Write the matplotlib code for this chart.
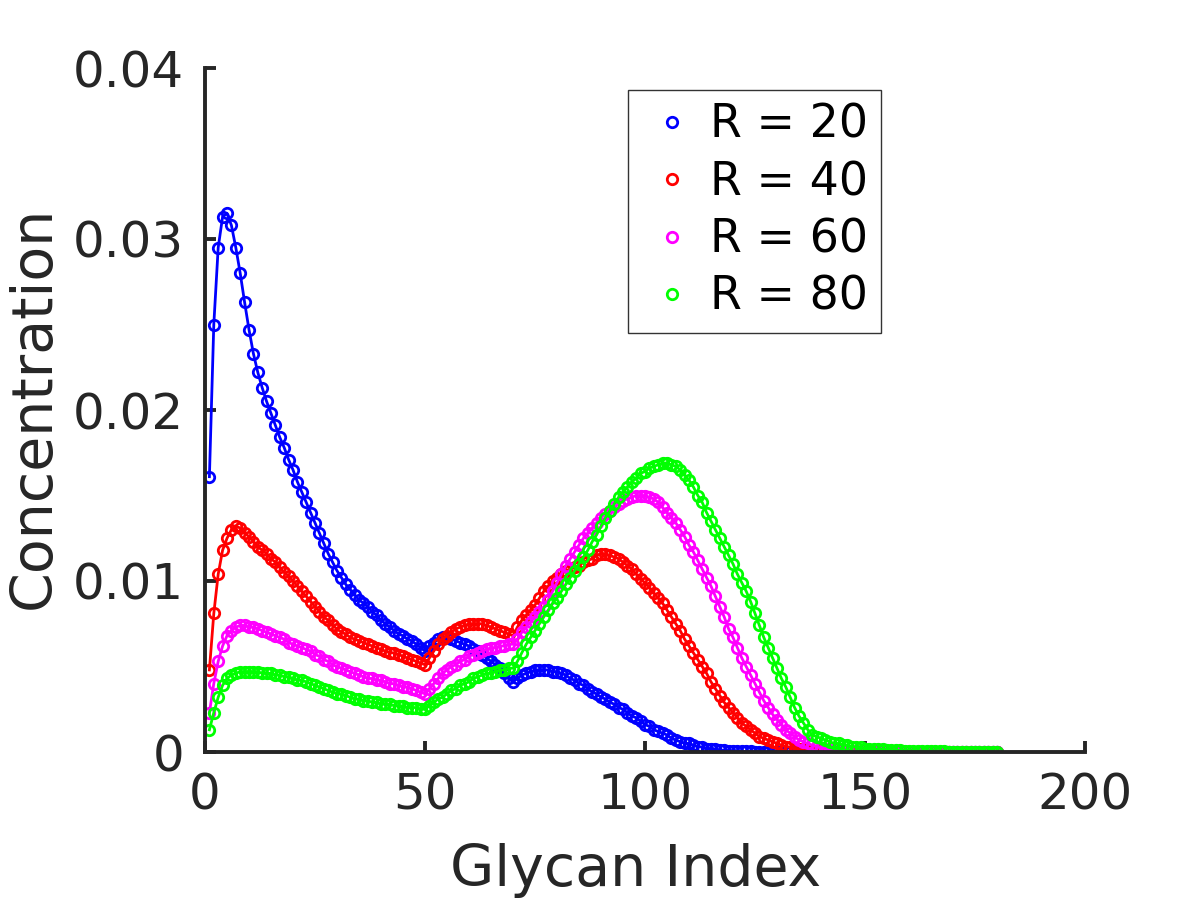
import numpy as np
import matplotlib.pyplot as plt
from matplotlib.lines import Line2D

# --- Data (glycan index 1..180) ---
glycan_index = np.arange(1, 181)

conc_r20 = [
    0.0161, 0.0250, 0.0295, 0.0313, 0.0315, 0.0308, 0.0295, 0.0280, 0.0263, 0.0247,
    0.0233, 0.0222, 0.0213, 0.0205, 0.0198, 0.0191, 0.0184, 0.0178, 0.0171, 0.0165,
    0.0158, 0.0152, 0.0146, 0.0140, 0.0134, 0.0128, 0.0122, 0.0116, 0.0111, 0.0106,
    0.0102, 0.0098, 0.0095, 0.0092, 0.0089, 0.0087, 0.0085, 0.0082, 0.0080, 0.0077,
    0.0075, 0.0073, 0.0071, 0.0069, 0.0068, 0.0066, 0.0065, 0.0063, 0.0061, 0.0059,
    0.0062, 0.0064, 0.0066, 0.0067, 0.0067, 0.0066, 0.0065, 0.0064, 0.0063, 0.0062,
    0.0060, 0.0059, 0.0057, 0.0055, 0.0053, 0.0051, 0.0049, 0.0046, 0.0043, 0.0041,
    0.0043, 0.0045, 0.0046, 0.0047, 0.0048, 0.0048, 0.0048, 0.0048, 0.0047, 0.0047,
    0.0046, 0.0045, 0.0043, 0.0042, 0.0040, 0.0039, 0.0037, 0.0035, 0.0034, 0.0032,
    0.0031, 0.0029, 0.0028, 0.0026, 0.0025, 0.0023, 0.0021, 0.0020, 0.0018, 0.0016,
    0.0015, 0.0013, 0.0012, 0.0011, 0.0010, 0.0008, 0.0007, 0.0006, 0.0005, 0.0005,
    0.0004, 0.0003, 0.0003, 0.0002, 0.0002, 0.00015, 0.00012, 0.0001, 0.00008, 0.00006,
    0.00005, 0.00004, 0.00003, 0.00003, 0.00002, 0.00002, 0.00001, 0.00001, 0.00001, 0.0,
    0.0, 0.0, 0.0, 0.0, 0.0, 0.0, 0.0, 0.0, 0.0, 0.0,
    0.0, 0.0, 0.0, 0.0, 0.0, 0.0, 0.0, 0.0, 0.0, 0.0,
    0.0, 0.0, 0.0, 0.0, 0.0, 0.0, 0.0, 0.0, 0.0, 0.0,
    0.0, 0.0, 0.0, 0.0, 0.0, 0.0, 0.0, 0.0, 0.0, 0.0,
    0.0, 0.0, 0.0, 0.0, 0.0, 0.0, 0.0, 0.0, 0.0, 0.0,
]

conc_r40 = [
    0.0048, 0.0081, 0.0104, 0.0118, 0.0125, 0.0130, 0.0132, 0.0131, 0.0128, 0.0126,
    0.0123, 0.0120, 0.0118, 0.0116, 0.0113, 0.0111, 0.0108, 0.0105, 0.0103, 0.0100,
    0.0097, 0.0094, 0.0091, 0.0088, 0.0085, 0.0082, 0.0079, 0.0077, 0.0074, 0.0072,
    0.0070, 0.0069, 0.0067, 0.0066, 0.0065, 0.0064, 0.0063, 0.0062, 0.0061, 0.0060,
    0.0059, 0.0058, 0.0058, 0.0057, 0.0056, 0.0055, 0.0054, 0.0053, 0.0052, 0.0051,
    0.0055, 0.0059, 0.0063, 0.0066, 0.0068, 0.0070, 0.0072, 0.0073, 0.0074, 0.0075,
    0.0075, 0.0075, 0.0075, 0.0074, 0.0073, 0.0072, 0.0071, 0.0070, 0.0069, 0.0068,
    0.0073, 0.0077, 0.0080, 0.0083, 0.0086, 0.0090, 0.0094, 0.0097, 0.0100, 0.0102,
    0.0104, 0.0106, 0.0107, 0.0108, 0.0109, 0.0111, 0.0112, 0.0113, 0.0115, 0.0116,
    0.0116, 0.0115, 0.0114, 0.0113, 0.0111, 0.0109, 0.0107, 0.0104, 0.0101, 0.0099,
    0.0096, 0.0093, 0.0090, 0.0087, 0.0083, 0.0079, 0.0075, 0.0071, 0.0066, 0.0062,
    0.0058, 0.0054, 0.0050, 0.0046, 0.0041, 0.0037, 0.0033, 0.0029, 0.0026, 0.0023,
    0.0020, 0.0017, 0.0015, 0.0013, 0.0011, 0.0009, 0.0008, 0.0007, 0.0006, 0.0005,
    0.0004, 0.0003, 0.0003, 0.0002, 0.0002, 0.00015, 0.00012, 0.0001, 0.00008, 0.00006,
    0.00005, 0.00004, 0.00003, 0.00003, 0.00002, 0.00002, 0.00001, 0.00001, 0.00001, 0.0,
    0.0, 0.0, 0.0, 0.0, 0.0, 0.0, 0.0, 0.0, 0.0, 0.0,
    0.0, 0.0, 0.0, 0.0, 0.0, 0.0, 0.0, 0.0, 0.0, 0.0,
    0.0, 0.0, 0.0, 0.0, 0.0, 0.0, 0.0, 0.0, 0.0, 0.0,
]

conc_r60 = [
    0.0023, 0.0040, 0.0053, 0.0062, 0.0068, 0.0071, 0.0073, 0.0074, 0.0074, 0.0073,
    0.0073, 0.0072, 0.0071, 0.0070, 0.0069, 0.0068, 0.0067, 0.0066, 0.0064, 0.0063,
    0.0062, 0.0061, 0.0060, 0.0059, 0.0057, 0.0056, 0.0054, 0.0053, 0.0051, 0.0050,
    0.0049, 0.0048, 0.0047, 0.0046, 0.0045, 0.0044, 0.0043, 0.0043, 0.0042, 0.0042,
    0.0041, 0.0040, 0.0040, 0.0039, 0.0038, 0.0038, 0.0037, 0.0036, 0.0035, 0.0034,
    0.0037, 0.0040, 0.0043, 0.0046, 0.0048, 0.0050, 0.0051, 0.0053, 0.0054, 0.0056,
    0.0057, 0.0058, 0.0059, 0.0060, 0.0061, 0.0061, 0.0062, 0.0062, 0.0063, 0.0063,
    0.0066, 0.0070, 0.0073, 0.0076, 0.0079, 0.0082, 0.0085, 0.0089, 0.0094, 0.0099,
    0.0104, 0.0109, 0.0113, 0.0117, 0.0121, 0.0125, 0.0128, 0.0131, 0.0134, 0.0137,
    0.0139, 0.0141, 0.0143, 0.0145, 0.0147, 0.0148, 0.0149, 0.0150, 0.0150, 0.0150,
    0.0149, 0.0148, 0.0146, 0.0143, 0.0140, 0.0137, 0.0134, 0.0130, 0.0126, 0.0121,
    0.0117, 0.0112, 0.0107, 0.0102, 0.0097, 0.0091, 0.0085, 0.0079, 0.0072, 0.0067,
    0.0061, 0.0055, 0.0050, 0.0045, 0.0040, 0.0035, 0.0030, 0.0026, 0.0022, 0.0019,
    0.0016, 0.0013, 0.0011, 0.0009, 0.0007, 0.0006, 0.0005, 0.0004, 0.0003, 0.00025,
    0.0002, 0.00015, 0.00012, 0.0001, 0.00008, 0.00006, 0.00005, 0.00004, 0.00003, 0.00003,
    0.00002, 0.00002, 0.00001, 0.00001, 0.00001, 0.0, 0.0, 0.0, 0.0, 0.0,
    0.0, 0.0, 0.0, 0.0, 0.0, 0.0, 0.0, 0.0, 0.0, 0.0,
    0.0, 0.0, 0.0, 0.0, 0.0, 0.0, 0.0, 0.0, 0.0, 0.0,
]

conc_r80 = [
    0.0013, 0.0023, 0.0032, 0.0039, 0.0043, 0.0045, 0.0046, 0.0047, 0.0047, 0.0047,
    0.0047, 0.0047, 0.0046, 0.0046, 0.0046, 0.0045, 0.0045, 0.0044, 0.0044, 0.0043,
    0.0042, 0.0042, 0.0041, 0.0040, 0.0039, 0.0038, 0.0037, 0.0036, 0.0035, 0.0034,
    0.0034, 0.0033, 0.0032, 0.0031, 0.0031, 0.0030, 0.0030, 0.0029, 0.0029, 0.0028,
    0.0028, 0.0028, 0.0027, 0.0027, 0.0027, 0.0026, 0.0026, 0.0026, 0.0025, 0.0025,
    0.0027, 0.0029, 0.0031, 0.0032, 0.0034, 0.0036, 0.0037, 0.0039, 0.0040, 0.0041,
    0.0043, 0.0044, 0.0045, 0.0046, 0.0046, 0.0047, 0.0048, 0.0048, 0.0049, 0.0049,
    0.0053, 0.0058, 0.0063, 0.0067, 0.0071, 0.0075, 0.0079, 0.0083, 0.0087, 0.0090,
    0.0094, 0.0098, 0.0102, 0.0106, 0.0110, 0.0114, 0.0118, 0.0123, 0.0127, 0.0132,
    0.0137, 0.0141, 0.0145, 0.0149, 0.0152, 0.0155, 0.0158, 0.0160, 0.0163, 0.0164,
    0.0166, 0.0167, 0.0168, 0.0169, 0.0169, 0.0168, 0.0167, 0.0165, 0.0162, 0.0159,
    0.0155, 0.0150, 0.0146, 0.0140, 0.0135, 0.0130, 0.0125, 0.0120, 0.0115, 0.0110,
    0.0104, 0.0099, 0.0094, 0.0088, 0.0081, 0.0074, 0.0067, 0.0061, 0.0055, 0.0049,
    0.0043, 0.0038, 0.0032, 0.0026, 0.0021, 0.0017, 0.0013, 0.0010, 0.0009, 0.0008,
    0.0007, 0.0006, 0.0005, 0.0005, 0.0004, 0.0004, 0.0003, 0.0003, 0.0003, 0.0002,
    0.0002, 0.0002, 0.00015, 0.00015, 0.00012, 0.00012, 0.0001, 0.0001, 0.00008, 0.00008,
    0.00006, 0.00006, 0.00005, 0.00005, 0.00004, 0.00004, 0.00003, 0.00003, 0.00002, 0.00002,
    0.00002, 0.00001, 0.00001, 0.00001, 0.00001, 0.0, 0.0, 0.0, 0.0, 0.0,
]

series_labels = ['R = 20', 'R = 40', 'R = 60', 'R = 80']
series_colors = ['#0000ff', '#ff0000', '#ff00ff', '#00ff00']
series_values = [conc_r20, conc_r40, conc_r60, conc_r80]

xticks = [0, 50, 100, 150, 200]
yticks = [0, 0.01, 0.02, 0.03, 0.04]
ytick_labels = ['0', '0.01', '0.02', '0.03', '0.04']

# --- Figure ---
text_color = '#262626'
plt.rcParams['font.family'] = ['DejaVu Sans']

fig = plt.figure(figsize=(12, 9), dpi=100)
ax = fig.add_axes([205 / 1200, 1 - 752 / 900, 880 / 1200, 684 / 900])

for vals, col in zip(series_values, series_colors):
    ax.plot(glycan_index, vals, color=col, linewidth=2, marker='o',
            markersize=7.5, markerfacecolor='none', markeredgewidth=2.0)

ax.set_xlim(0, 200)
ax.set_ylim(0, 0.04)
ax.set_xticks(xticks)
ax.set_xticklabels([str(t) for t in xticks])
ax.set_yticks(yticks)
ax.set_yticklabels(ytick_labels)

for side in ['top', 'right']:
    ax.spines[side].set_visible(False)
for side in ['left', 'bottom']:
    ax.spines[side].set_linewidth(2.8)
    ax.spines[side].set_color(text_color)

ax.tick_params(direction='in', length=8, width=2.8, colors=text_color,
               labelsize=36, pad=14)
ax.tick_params(axis='y', pad=15)

ax.set_xlabel('Glycan Index', fontsize=41, color=text_color, labelpad=17)
ax.set_ylabel('Concentration', fontsize=41, color=text_color, labelpad=8)
ax.xaxis.label.set_x(0.489)
ax.yaxis.label.set_y(0.504)

# Legend shows markers only
handles = [Line2D([], [], linestyle='none', marker='o', markersize=7.5,
                  markerfacecolor='none', markeredgewidth=2.0, color=c)
           for c in series_colors]
leg = fig.legend(handles, series_labels, loc='upper left',
                 bbox_to_anchor=(628 / 1200, 1 - 90 / 900),
                 fontsize=33, frameon=True, fancybox=False,
                 handlelength=1.36, handletextpad=0.15, labelspacing=0.27,
                 borderpad=0.28, borderaxespad=0)
leg.get_frame().set_edgecolor('black')
leg.get_frame().set_linewidth(1.0)

fig.savefig('out.png', dpi=100)
